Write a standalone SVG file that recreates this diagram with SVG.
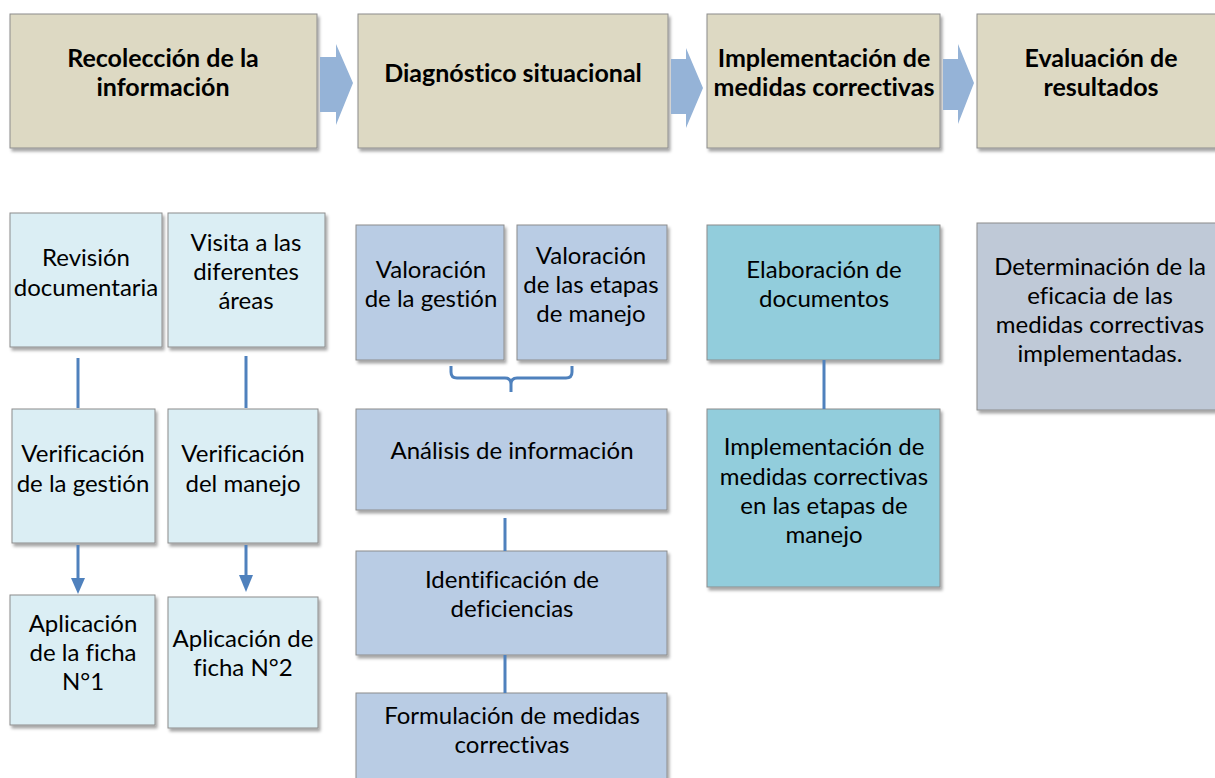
<svg xmlns="http://www.w3.org/2000/svg" width="1215" height="778" viewBox="0 0 1215 778">
<defs>
<filter id="sh" x="-5%" y="-5%" width="115%" height="115%">
<feDropShadow dx="2" dy="3" stdDeviation="1.5" flood-color="#000" flood-opacity="0.35"/>
</filter>
</defs>
<style>
.box{stroke:#8c8c8c;stroke-width:1;filter:url(#sh)}
.top{fill:#ddd9c3}
.lb{fill:#dbeef4}
.bl{fill:#b9cce4}
.tq{fill:#92cddc}
.gr{fill:#bfc9d7}
.t{font-family:Lato,"Liberation Sans",sans-serif;font-size:24px;fill:#000;text-anchor:middle;font-variant-ligatures:none}
.h{font-family:Lato,"Liberation Sans",sans-serif;font-size:25px;font-weight:bold;fill:#000;text-anchor:middle;font-variant-ligatures:none}
.c{stroke:#4f81bd;stroke-width:3;fill:none}
.ar{fill:#95b3d7}
</style>
<g id="n1"><rect class="box top" x="10" y="14" width="307" height="134"/><text class="h" x="163" y="67">Recolección de la</text><text class="h" x="163" y="96">información</text></g>
<g id="n2"><rect class="box top" x="358" y="14" width="310" height="134"/><text class="h" x="513" y="82">Diagnóstico situacional</text></g>
<g id="n3"><rect class="box top" x="707" y="14" width="233" height="134"/><text class="h" x="824" y="67">Implementación de</text><text class="h" x="824" y="96">medidas correctivas</text></g>
<g id="n4"><rect class="box top" x="977" y="14" width="245" height="134"/><text class="h" x="1101" y="67">Evaluación de</text><text class="h" x="1101" y="96">resultados</text></g>

<g id="n5"><rect class="box lb" x="10" y="213" width="152" height="134"/><text class="t" x="86" y="266">Revisión</text><text class="t" x="86" y="296">documentaria</text></g>
<g id="n6"><rect class="box lb" x="168" y="213" width="157" height="134"/><text class="t" x="246" y="251">Visita a las</text><text class="t" x="246" y="280">diferentes</text><text class="t" x="246" y="309">áreas</text></g>
<g id="n7"><rect class="box lb" x="12" y="409" width="143" height="134"/><text class="t" x="83" y="462">Verificación</text><text class="t" x="83" y="492">de la gestión</text></g>
<g id="n8"><rect class="box lb" x="168" y="409" width="150" height="134"/><text class="t" x="243" y="462">Verificación</text><text class="t" x="243" y="492">del manejo</text></g>
<g id="n9"><rect class="box lb" x="10" y="595" width="145" height="130"/><text class="t" x="83" y="632">Aplicación</text><text class="t" x="83" y="661">de la ficha</text><text class="t" x="83" y="690">N°1</text></g>
<g id="n10"><rect class="box lb" x="168" y="597" width="150" height="131"/><text class="t" x="243" y="647">Aplicación de</text><text class="t" x="243" y="676">ficha N°2</text></g>

<g id="n11"><rect class="box bl" x="356" y="225" width="148" height="135"/><text class="t" x="431" y="278">Valoración</text><text class="t" x="431" y="307">de la gestión</text></g>
<g id="n12"><rect class="box bl" x="517" y="225" width="150" height="135"/><text class="t" x="591" y="264">Valoración</text><text class="t" x="591" y="293">de las etapas</text><text class="t" x="591" y="322">de manejo</text></g>
<g id="n13"><rect class="box bl" x="356" y="409" width="311" height="101"/><text class="t" x="512" y="459">Análisis de información</text></g>
<g id="n14"><rect class="box bl" x="356" y="551" width="311" height="104"/><text class="t" x="512" y="588">Identificación de</text><text class="t" x="512" y="617">deficiencias</text></g>
<g id="n15"><rect class="box bl" x="356" y="693" width="311" height="100"/><text class="t" x="512" y="724">Formulación de medidas</text><text class="t" x="512" y="753">correctivas</text></g>

<g id="n16"><rect class="box tq" x="707" y="225" width="233" height="135"/><text class="t" x="824" y="278">Elaboración de</text><text class="t" x="824" y="307">documentos</text></g>
<g id="n17"><rect class="box tq" x="707" y="409" width="233" height="178"/><text class="t" x="824" y="455">Implementación de</text><text class="t" x="824" y="485">medidas correctivas</text><text class="t" x="824" y="514">en las etapas de</text><text class="t" x="824" y="543">manejo</text></g>
<g id="n18"><rect class="box gr" x="977" y="223" width="245" height="187"/><text class="t" x="1100" y="275">Determinación de la</text><text class="t" x="1100" y="304">eficacia de las</text><text class="t" x="1100" y="333">medidas correctivas</text><text class="t" x="1100" y="362">implementadas.</text></g>

<g id="connectors">
<path class="ar" d="M320,57 H336 V44 L353,83 L336,125 V112 H320 Z"/>
<path class="ar" d="M671,59 H686 V48 L703,88 L686,128 V114 H671 Z"/>
<path class="ar" d="M943,59 H958 V44 L974,83 L958,124 V110 H943 Z"/>
<line class="c" x1="78" y1="358" x2="78" y2="408"/>
<line class="c" x1="246" y1="356" x2="246" y2="408"/>
<line class="c" x1="78" y1="545" x2="78" y2="580"/>
<path d="M71,578 H85 L78,594 Z" fill="#4f81bd"/>
<line class="c" x1="246" y1="545" x2="246" y2="577"/>
<path d="M239,575 H253 L246,592 Z" fill="#4f81bd"/>
<path class="c" d="M451,366 V372 Q451,378 457,378 H505 Q511,378 511,384 V392 M511,384 Q511,378 517,378 H566 Q572,378 572,372 V366"/>
<line class="c" x1="505" y1="518" x2="505" y2="551"/>
<line class="c" x1="505" y1="655" x2="505" y2="693"/>
<line class="c" x1="824" y1="360" x2="824" y2="409"/>
</g>
</svg>
